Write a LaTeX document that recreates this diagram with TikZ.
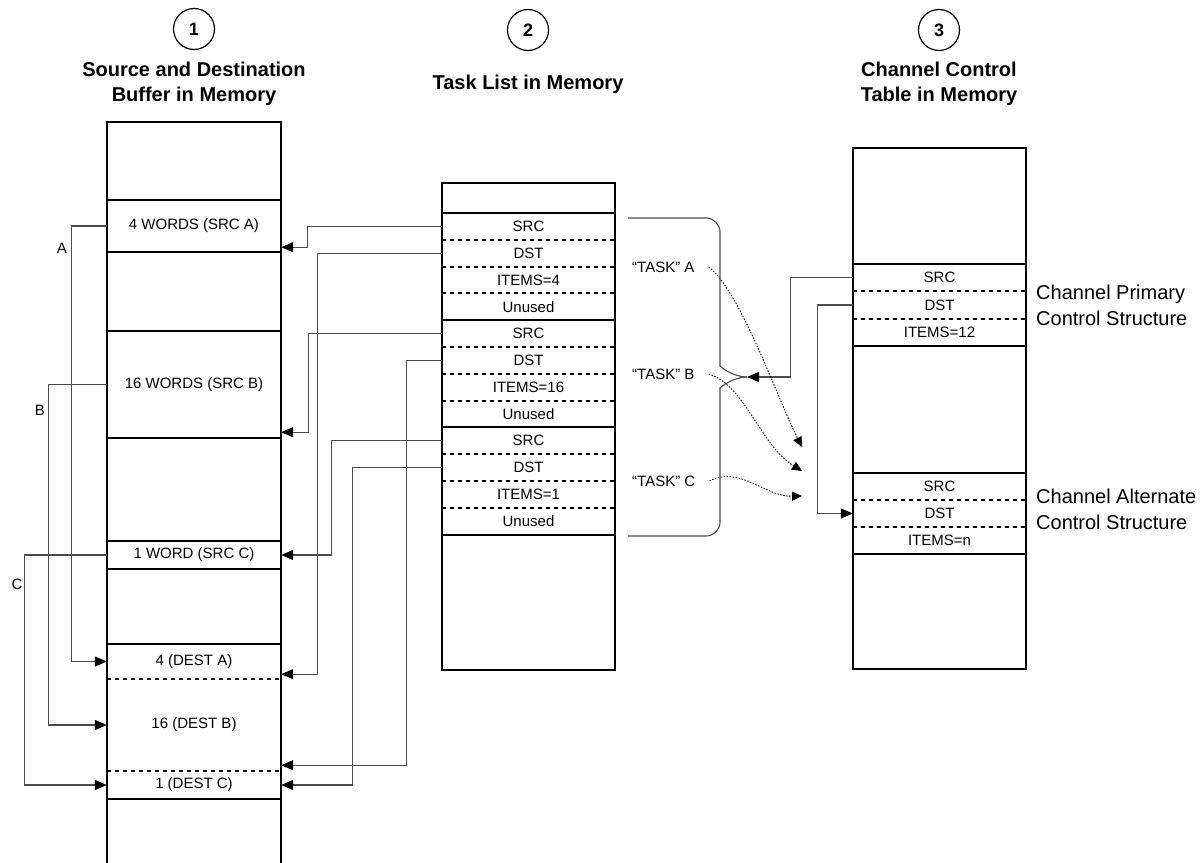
\documentclass[tikz,border=0pt]{standalone}
\usepackage{fontspec}
\setmainfont{Liberation Sans}
\usetikzlibrary{arrows.meta}

\tikzset{
  col/.style={line width=2pt},
  sep/.style={line width=2pt},
  dsep/.style={line width=2pt, dash pattern=on 4pt off 4pt},
  cell/.style={minimum width=174pt, inner sep=0pt, font=\fontsize{15}{18}\selectfont},
  lbl/.style={inner sep=0pt, font=\fontsize{15}{18}\selectfont},
  head/.style={align=center, font=\bfseries\fontsize{20}{25}\selectfont},
  side/.style={align=left, anchor=west, inner sep=0pt, font=\fontsize{20}{26}\selectfont},
  num/.style={draw, circle, line width=1.2pt, minimum size=41pt, inner sep=0pt, font=\bfseries\fontsize{18}{20}\selectfont},
  conn/.style={draw=black!70, line width=1.1pt, -{Triangle[length=12pt,width=10pt,color=black]}},
  dots/.style={line width=0.9pt, dash pattern=on 1.5pt off 1.5pt, -{Triangle[length=10pt,width=9pt]}},
  brace/.style={draw=black!70, line width=1.1pt, rounded corners=14pt}
}

\begin{document}
\begin{tikzpicture}[x=1pt,y=-1pt]
  \useasboundingbox (0,0) rectangle (1204,862);

  % headings
  \path (194,29) node[num] (n1) {1};
  \path (528,30) node[num] (n2) {2};
  \path (939,30) node[num] (n3) {3};
  \path (194,84) node[head] (hd1) {Source and Destination\\Buffer in Memory};
  \path (528,84) node[head] (hd2) {Task List in Memory};
  \path (939,84) node[head] (hd3) {Channel Control\\Table in Memory};

  % buffers
  \draw[col] (107,870) -- (107,122) -- (281,122) -- (281,870);
  \draw[sep] (107,200) -- (281,200);
  \draw[sep] (107,252) -- (281,252);
  \draw[sep] (107,331) -- (281,331);
  \draw[sep] (107,438) -- (281,438);
  \draw[sep] (107,541) -- (281,541);
  \draw[sep] (107,569) -- (281,569);
  \draw[sep] (107,644) -- (281,644);
  \draw[dsep] (107,679) -- (281,679);
  \draw[dsep] (107,771) -- (281,771);
  \draw[sep] (107,799) -- (281,799);
  \path (194,226) node[cell, minimum height=52pt] (srcA) {4 WORDS (SRC A)};
  \path (194,384.5) node[cell, minimum height=107pt] (srcB) {16 WORDS (SRC B)};
  \path (194,555) node[cell, minimum height=28pt] (srcC) {1 WORD (SRC C)};
  \path (194,661.5) node[cell, minimum height=35pt] (dstA) {4 (DEST A)};
  \path (194,725) node[cell, minimum height=92pt] (dstB) {16 (DEST B)};
  \path (194,785) node[cell, minimum height=28pt] (dstC) {1 (DEST C)};
  \path (62,248) node[lbl] (lA) {A};
  \path (40,410) node[lbl] (lB) {B};
  \path (17,584) node[lbl] (lC) {C};

  % task list
  \draw[col] (442,183) rectangle (615,670);
  \draw[sep] (442,213) -- (615,213);
  \draw[dsep] (442,239.8) -- (615,239.8);
  \draw[dsep] (442,266.6) -- (615,266.6);
  \draw[dsep] (442,293.4) -- (615,293.4);
  \draw[sep] (442,320.2) -- (615,320.2);
  \draw[dsep] (442,347) -- (615,347);
  \draw[dsep] (442,373.8) -- (615,373.8);
  \draw[dsep] (442,400.6) -- (615,400.6);
  \draw[sep] (442,427.4) -- (615,427.4);
  \draw[dsep] (442,454.2) -- (615,454.2);
  \draw[dsep] (442,481) -- (615,481);
  \draw[dsep] (442,507.8) -- (615,507.8);
  \draw[sep] (442,534.6) -- (615,534.6);
  \path (528.5,226.4) node[cell, minimum width=173pt, minimum height=26.8pt] (tAsrc) {SRC};
  \path (528.5,253.2) node[cell, minimum width=173pt, minimum height=26.8pt] (tAdst) {DST};
  \path (528.5,280) node[cell, minimum width=173pt, minimum height=26.8pt] (tAitm) {ITEMS=4};
  \path (528.5,306.8) node[cell, minimum width=173pt, minimum height=26.8pt] (tAuse) {Unused};
  \path (528.5,333.6) node[cell, minimum width=173pt, minimum height=26.8pt] (tBsrc) {SRC};
  \path (528.5,360.4) node[cell, minimum width=173pt, minimum height=26.8pt] (tBdst) {DST};
  \path (528.5,387.2) node[cell, minimum width=173pt, minimum height=26.8pt] (tBitm) {ITEMS=16};
  \path (528.5,414) node[cell, minimum width=173pt, minimum height=26.8pt] (tBuse) {Unused};
  \path (528.5,440.8) node[cell, minimum width=173pt, minimum height=26.8pt] (tCsrc) {SRC};
  \path (528.5,467.6) node[cell, minimum width=173pt, minimum height=26.8pt] (tCdst) {DST};
  \path (528.5,494.4) node[cell, minimum width=173pt, minimum height=26.8pt] (tCitm) {ITEMS=1};
  \path (528.5,521.2) node[cell, minimum width=173pt, minimum height=26.8pt] (tCuse) {Unused};
  \path (632,267) node[lbl, anchor=west] (taskA) {“TASK” A};
  \path (632,374) node[lbl, anchor=west] (taskB) {“TASK” B};
  \path (632,481) node[lbl, anchor=west] (taskC) {“TASK” C};

  % control table
  \draw[col] (853,148) rectangle (1026,669);
  \draw[sep] (853,264) -- (1026,264);
  \draw[dsep] (853,291.3) -- (1026,291.3);
  \draw[dsep] (853,318.7) -- (1026,318.7);
  \draw[sep] (853,346) -- (1026,346);
  \draw[sep] (853,473) -- (1026,473);
  \draw[dsep] (853,500) -- (1026,500);
  \draw[dsep] (853,527) -- (1026,527);
  \draw[sep] (853,554) -- (1026,554);
  \path (939.5,277.7) node[cell, minimum width=173pt, minimum height=27.3pt] (pSrc) {SRC};
  \path (939.5,305) node[cell, minimum width=173pt, minimum height=27.3pt] (pDst) {DST};
  \path (939.5,332.3) node[cell, minimum width=173pt, minimum height=27.3pt] (pItm) {ITEMS=12};
  \path (939.5,486.5) node[cell, minimum width=173pt, minimum height=27pt] (aSrc) {SRC};
  \path (939.5,513.5) node[cell, minimum width=173pt, minimum height=27pt] (aDst) {DST};
  \path (939.5,540.5) node[cell, minimum width=173pt, minimum height=27pt] (aItm) {ITEMS=n};
  \path (1036,305) node[side] (prim) {Channel Primary\\Control Structure};
  \path (1036,509) node[side] (alt) {Channel Alternate\\Control Structure};

  % copies inside the buffer
  \draw[conn] (srcA.west) -- ++(-35,0) |- (dstA.west);
  \draw[conn] (srcB.west) -- ++(-58,0) |- (dstB.west);
  \draw[conn] (srcC.west) -- ++(-82,0) |- (dstC.west);

  % pointers from the task list
  \draw[conn] (tAsrc.west) -- ++(-134,0) |- ([yshift=5pt]srcA.south east);
  \draw[conn] (tAdst.west) -- ++(-124,0) |- ([yshift=5pt]dstA.south east);
  \draw[conn] (tBsrc.west) -- ++(-133,0) |- ([yshift=6pt]srcB.south east);
  \draw[conn] (tBdst.west) -- ++(-35,0) |- ([yshift=6pt]dstB.south east);
  \draw[conn] (tCsrc.west) -- ++(-110,0) |- (srcC.east);
  \draw[conn] (tCdst.west) -- ++(-89,0) |- (dstC.east);

  % brace over the task list
  \coordinate (tip) at (747,377);
  \coordinate (bTop) at (628,218);
  \coordinate (bBot) at (628,536);
  \draw[brace] (bTop) -| (720,352) to[out=-90,in=180] (tip);
  \draw[brace] (bBot) -| (720,402) to[out=90,in=180] (tip);

  % primary and alternate structures
  \draw[conn] (pSrc.west) -- ++(-62,0) |- (tip);
  \draw[conn] (pDst.west) -- ++(-35,0) |- (aDst.west);

  % tasks copied into the alternate structure
  \coordinate (tipA) at (802,447);
  \coordinate (tipB) at (802,471);
  \coordinate (tipC) at (802,496);
  \draw[dots] ([xshift=14pt]taskA.east) .. controls (740,290) and (778,400) .. (tipA);
  \draw[dots] ([xshift=14pt]taskB.east) .. controls (745,385) and (760,445) .. (tipB);
  \draw[dots] ([xshift=14pt]taskC.east) .. controls (740,465) and (765,497) .. (tipC);
\end{tikzpicture}
\end{document}
